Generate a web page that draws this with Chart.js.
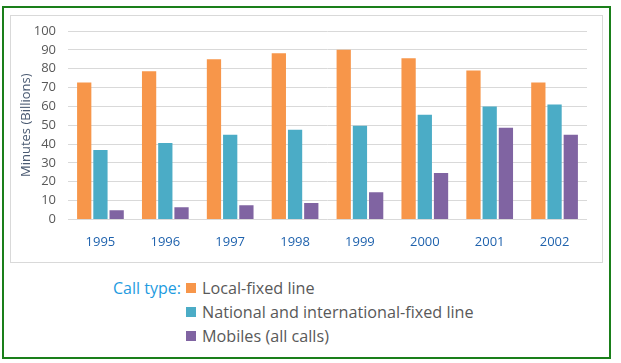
<!DOCTYPE html>
<html>
<head>
<meta charset="utf-8">
<script src="https://cdn.jsdelivr.net/npm/chart.js@4"></script>
<style>
  body { margin: 0; background: #fff; font-family: "Open Sans", sans-serif; }
  #frame { position: absolute; left: 2px; top: 6px; width: 609px; height: 353px; box-sizing: border-box; border: 2px solid #1a7f1a; }
  #box { position: absolute; left: 10px; top: 15px; width: 593px; height: 248px; box-sizing: border-box; border: 1px solid #d9d9d9; }
  #box canvas { display: block; }
  .legend-title { position: absolute; left: 113px; top: 276px; font-size: 16px; line-height: 24px; color: #1e9be0; white-space: nowrap; }
  #legend-items { position: absolute; left: 186px; top: 276px; font-size: 16.2px; color: #595959; }
  .item { height: 24px; white-space: nowrap; display: flex; align-items: center; }
  .sw { width: 10px; height: 10px; margin-right: 6px; }
</style>
</head>
<body>
<div id="frame"></div>
<div id="box"><canvas id="chart" width="591" height="246"></canvas></div>
<div class="legend-title">Call type:</div>
<div id="legend-items"></div>
<script>
// chart data
const years = ['1995', '1996', '1997', '1998', '1999', '2000', '2001', '2002'];
const seriesNames = ['Local-fixed line', 'National and international-fixed line', 'Mobiles (all calls)'];
const localFixed = [72.7, 78.6, 85, 88.2, 90, 85.6, 79.1, 72.7];
const nationalFixed = [36.9, 40.6, 44.9, 47.6, 49.7, 55.6, 59.9, 61];
const mobiles = [4.8, 6.4, 7.5, 8.7, 14.4, 24.6, 48.7, 44.9];
const yTicks = [0, 10, 20, 30, 40, 50, 60, 70, 80, 90, 100];

const colors = ['#f7964a', '#4bacc6', '#8064a2'];
const seriesValues = [localFixed, nationalFixed, mobiles];

new Chart(document.getElementById('chart').getContext('2d'), {
    type: 'bar',
    data: {
        labels: years,
        datasets: seriesNames.map(function(name, i) {
            return {
                label: name,
                data: seriesValues[i],
                backgroundColor: colors[i],
                categoryPercentage: 0.75,
                barPercentage: 0.88
            };
        })
    },
    options: {
        responsive: false,
        animation: false,
        layout: { padding: { left: 5, top: 15, right: 15, bottom: 5 } },
        plugins: {
            legend: { display: false },
            tooltip: { enabled: false }
        },
        scales: {
            x: {
                grid: { display: false },
                border: { display: false },
                ticks: {
                    color: '#1f62ad',
                    font: { family: 'Open Sans', size: 13 },
                    padding: 7,
                    autoSkip: false,
                    maxRotation: 0
                }
            },
            y: {
                min: 0,
                max: 100,
                afterBuildTicks: function(axis) {
                    axis.ticks = yTicks.map(function(v) { return { value: v }; });
                },
                afterFit: function(axis) {
                    axis.width = 52;
                    axis.paddingTop = 0;
                    axis.paddingBottom = 0;
                },
                grid: { color: '#d9d9d9', drawTicks: false },
                border: { display: false },
                ticks: {
                    color: '#595959',
                    font: { family: 'Open Sans', size: 13 },
                    padding: 12,
                    autoSkip: false
                },
                title: {
                    display: true,
                    text: 'Minutes (Billions)',
                    color: '#4a5a72',
                    font: { family: 'Open Sans', size: 13 },
                    padding: 2
                }
            }
        }
    }
});

// legend list
const legendItems = document.getElementById('legend-items');
seriesNames.forEach(function(name, i) {
    const row = document.createElement('div');
    row.className = 'item';
    row.innerHTML = '<span class="sw" style="background:' + colors[i] + '"></span>' + name;
    legendItems.appendChild(row);
});
</script>
</body>
</html>
